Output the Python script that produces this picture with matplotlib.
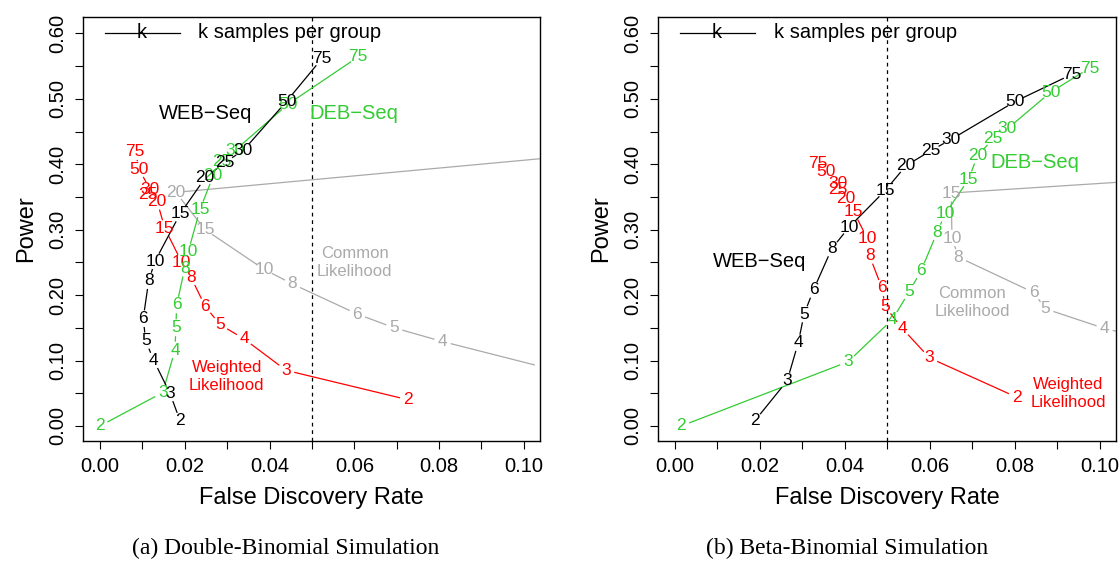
import numpy as np
import matplotlib
matplotlib.use("Agg")
from matplotlib import pyplot as plt

plt.rcParams['font.family'] = ['Liberation Sans', 'DejaVu Sans']

# Colours
WEBCOLOR = 'black'
DEBCOLOR = '#33CC33'
WLCOLOR = '#FF0000'
CLCOLOR = '#AAAAAA'

LABELSIZE = 12.5   # k labels on the curves
NOTESIZE = 12      # "Common Likelihood" etc.
NAMESIZE = 14.5    # method names and legend
TICKSIZE = 14.5
AXLABELSIZE = 17
GAP = 9            # pixel gap between a label and its line

# Sample sizes (labels on the curves)
k_labels = ["2", "3", "4", "5", "6", "8", "10", "15", "20", "25", "30", "50", "75"]

# (a) Double-Binomial simulation
web_fdr_a = [0.0189, 0.0165, 0.0127, 0.0108, 0.0102, 0.0115, 0.0130, 0.0189, 0.0248, 0.0295, 0.0338, 0.0440, 0.0523]
web_pow_a = [0.008, 0.050, 0.100, 0.130, 0.164, 0.222, 0.252, 0.324, 0.379, 0.403, 0.421, 0.496, 0.561]
deb_fdr_a = [0.0000, 0.0148, 0.0177, 0.0179, 0.0181, 0.0200, 0.0208, 0.0236, 0.0267, 0.0287, 0.0318, 0.0444, 0.0609]
deb_pow_a = [0.000, 0.051, 0.116, 0.150, 0.185, 0.241, 0.266, 0.331, 0.382, 0.404, 0.421, 0.492, 0.564]
wl_fdr_a = [0.0727, 0.0439, 0.0340, 0.0283, 0.0248, 0.0215, 0.0193, 0.0153, 0.0135, 0.0114, 0.0118, 0.0093, 0.0083]
wl_pow_a = [0.040, 0.085, 0.133, 0.155, 0.183, 0.227, 0.250, 0.302, 0.343, 0.353, 0.361, 0.392, 0.419]
cl_k_a = ["2", "3", "4", "5", "6", "8", "10", "15", "20", "25"]
cl_fdr_a = [0.130, 0.1045, 0.0808, 0.0694, 0.0607, 0.0454, 0.0388, 0.0248, 0.0179, 0.150]
cl_pow_a = [0.060, 0.090, 0.129, 0.150, 0.171, 0.217, 0.239, 0.300, 0.357, 0.436]

# (b) Beta-Binomial simulation
web_fdr_b = [0.0188, 0.0264, 0.0290, 0.0304, 0.0326, 0.0369, 0.0410, 0.0495, 0.0544, 0.0603, 0.0650, 0.0801, 0.0933]
web_pow_b = [0.008, 0.069, 0.127, 0.171, 0.208, 0.271, 0.304, 0.360, 0.398, 0.421, 0.438, 0.496, 0.537]
deb_fdr_b = [0.0015, 0.0407, 0.0512, 0.0551, 0.0579, 0.0617, 0.0636, 0.0691, 0.0712, 0.0749, 0.0782, 0.0884, 0.0976]
deb_pow_b = [0.000, 0.098, 0.163, 0.205, 0.237, 0.296, 0.324, 0.377, 0.413, 0.439, 0.454, 0.510, 0.547]
wl_fdr_b = [0.0804, 0.0599, 0.0535, 0.0495, 0.0487, 0.0458, 0.0453, 0.0421, 0.0402, 0.0384, 0.0383, 0.0355, 0.0337]
wl_pow_b = [0.044, 0.104, 0.149, 0.182, 0.211, 0.260, 0.286, 0.327, 0.347, 0.362, 0.371, 0.389, 0.401]
cl_k_b = ["2", "3", "4", "5", "6", "8", "10", "15", "20"]
cl_fdr_b = [0.140, 0.120, 0.1011, 0.0872, 0.0844, 0.0667, 0.0652, 0.0650, 0.120]
cl_pow_b = [0.090, 0.120, 0.149, 0.179, 0.204, 0.258, 0.287, 0.356, 0.379]

FDR_TARGET = 0.05

x_major = [0.00, 0.02, 0.04, 0.06, 0.08, 0.10]
x_minor = [0.01, 0.03, 0.05, 0.07, 0.09]
y_major = [0.0, 0.1, 0.2, 0.3, 0.4, 0.5, 0.6]
y_minor = [0.05, 0.15, 0.25, 0.35, 0.45, 0.55]

captions = ["(a) Double-Binomial Simulation", "(b) Beta-Binomial Simulation"]


def labelled_curve(ax, x, y, labels, color):
    # R-style type="c": segments with gaps round each point, label at the point
    pts = ax.transData.transform(np.column_stack([x, y]))
    inv = ax.transData.inverted()
    for i in range(len(pts) - 1):
        d = pts[i + 1] - pts[i]
        length = np.hypot(d[0], d[1])
        if length <= 2 * GAP:
            continue
        u = d / length
        a = inv.transform(pts[i] + u * GAP)
        b = inv.transform(pts[i + 1] - u * GAP)
        ax.plot([a[0], b[0]], [a[1], b[1]], color=color, lw=0.9)
    for xi, yi, lab in zip(x, y, labels):
        ax.text(xi, yi, lab, color=color, fontsize=LABELSIZE,
                ha='center', va='center', clip_on=True)


def setup_axes(ax):
    ax.set_xlim(-0.004, 0.1038)
    ax.set_ylim(-0.023, 0.625)
    ax.set_xticks(x_major)
    ax.set_xticks(x_minor, minor=True)
    ax.set_xticklabels(["%.2f" % v for v in x_major])
    ax.set_yticks(y_major)
    ax.set_yticks(y_minor, minor=True)
    ax.set_yticklabels(["%.2f" % v for v in y_major], rotation=90, va='center')
    ax.tick_params(axis='both', which='both', direction='out', length=5.5, width=0.8)
    ax.tick_params(axis='x', which='major', labelsize=TICKSIZE, pad=6)
    ax.tick_params(axis='y', which='major', labelsize=TICKSIZE, pad=5.5)
    for s in ax.spines.values():
        s.set_linewidth(1.0)
    ax.set_xlabel('False Discovery Rate', fontsize=AXLABELSIZE)
    ax.set_ylabel('Power', fontsize=AXLABELSIZE)
    ax.xaxis.set_label_coords(0.5, -0.108)
    ax.yaxis.set_label_coords(-0.101, 0.5)
    ax.axvline(FDR_TARGET, color='black', lw=0.9, linestyle=(0, (3, 3)))
    # legend
    ax.plot([0.0012, 0.0188], [0.601, 0.601], color='black', lw=0.9)
    ax.text(0.0098, 0.601, 'k', fontsize=NAMESIZE, ha='center', va='center')
    ax.text(0.0232, 0.601, 'k samples per group', fontsize=NAMESIZE, ha='left', va='center')


fig = plt.figure(figsize=(11.2, 5.65), dpi=100)
ax_a = fig.add_axes([83 / 1120, 124 / 565, 457 / 1120, 424 / 565])
ax_b = fig.add_axes([658 / 1120, 124 / 565, 458 / 1120, 424 / 565])

setup_axes(ax_a)
labelled_curve(ax_a, cl_fdr_a, cl_pow_a, cl_k_a, CLCOLOR)
labelled_curve(ax_a, wl_fdr_a, wl_pow_a, k_labels, WLCOLOR)
labelled_curve(ax_a, deb_fdr_a, deb_pow_a, k_labels, DEBCOLOR)
labelled_curve(ax_a, web_fdr_a, web_pow_a, k_labels, WEBCOLOR)
ax_a.text(0.0250, 0.477, 'WEB\u2212Seq', color=WEBCOLOR, fontsize=NAMESIZE, ha='center', va='center')
ax_a.text(0.0599, 0.477, 'DEB\u2212Seq', color=DEBCOLOR, fontsize=NAMESIZE, ha='center', va='center')
ax_a.text(0.0601, 0.250, 'Common\nLikelihood', color=CLCOLOR, fontsize=NOTESIZE,
          ha='center', va='center', linespacing=1.25)
ax_a.text(0.0299, 0.075, 'Weighted\nLikelihood', color=WLCOLOR, fontsize=NOTESIZE,
          ha='center', va='center', linespacing=1.25)

setup_axes(ax_b)
labelled_curve(ax_b, cl_fdr_b, cl_pow_b, cl_k_b, CLCOLOR)
labelled_curve(ax_b, wl_fdr_b, wl_pow_b, k_labels, WLCOLOR)
labelled_curve(ax_b, deb_fdr_b, deb_pow_b, k_labels, DEBCOLOR)
labelled_curve(ax_b, web_fdr_b, web_pow_b, k_labels, WEBCOLOR)
ax_b.text(0.0200, 0.251, 'WEB\u2212Seq', color=WEBCOLOR, fontsize=NAMESIZE, ha='center', va='center')
ax_b.text(0.0848, 0.402, 'DEB\u2212Seq', color=DEBCOLOR, fontsize=NAMESIZE, ha='center', va='center')
ax_b.text(0.0699, 0.189, 'Common\nLikelihood', color=CLCOLOR, fontsize=NOTESIZE,
          ha='center', va='center', linespacing=1.25)
ax_b.text(0.0925, 0.050, 'Weighted\nLikelihood', color=WLCOLOR, fontsize=NOTESIZE,
          ha='center', va='center', linespacing=1.25)

# captions under the panels
fig.text(286 / 1120, 1 - 548 / 565, captions[0], family='Liberation Serif', fontsize=17,
         ha='center', va='center')
fig.text(847 / 1120, 1 - 548 / 565, captions[1], family='Liberation Serif', fontsize=17,
         ha='center', va='center')

fig.savefig('out.png', dpi=100)
